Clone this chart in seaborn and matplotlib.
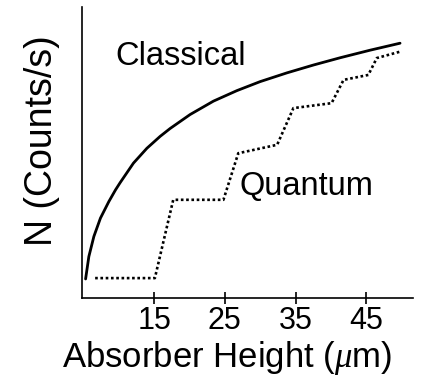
import matplotlib
matplotlib.use("Agg")
import matplotlib.pyplot as plt
import seaborn as sns
import pandas as pd

# Classical curve
classical_x = [5.3, 5.76, 6.47, 7.40, 8.59, 9.53, 10.19, 12.07, 13.97, 15.85, 17.26, 20.09,
               23.39, 26.70, 29.99, 33.77, 37.53, 41.31, 45.55, 49.79]
classical_y = [6.5, 14.2, 21.1, 27.4, 33.1, 37.1, 39.6, 46.3, 51.4, 55.5, 58.2, 63.0,
               67.6, 71.2, 74.3, 77.3, 80.0, 82.5, 85.1, 87.5]

# Quantum step curve corners
quantum_x = [6.65, 15.1, 17.7, 24.8, 26.9, 32.4, 34.7, 40.1, 41.8, 45.3, 46.5, 49.8]
quantum_y = [6.8, 6.8, 33.7, 33.7, 49.7, 52.6, 65.2, 66.9, 74.9, 76.6, 82.4, 84.6]

xticks = [15, 25, 35, 45]
xlabel = "Absorber Height ($\\mu$m)"
ylabel = "N (Counts/s)"

sns.set_style("ticks")
plt.rcParams['font.family'] = ['Liberation Sans', 'DejaVu Sans']
plt.rcParams['mathtext.fontset'] = 'custom'
plt.rcParams['mathtext.it'] = 'Liberation Serif:italic'
plt.rcParams['mathtext.rm'] = 'Liberation Sans'
plt.rcParams['text.color'] = 'black'
plt.rcParams['axes.labelcolor'] = 'black'
plt.rcParams['xtick.color'] = 'black'
plt.rcParams['ytick.color'] = 'black'

fig = plt.figure(figsize=(4.23, 3.79), dpi=100)
ax = fig.add_axes([0.194, 0.214, 0.782, 0.768])

dfc = pd.DataFrame({"x": classical_x, "y": classical_y})
dfq = pd.DataFrame({"x": quantum_x, "y": quantum_y})
sns.lineplot(data=dfc, x="x", y="y", ax=ax, color="black", lw=2.0, sort=False, estimator=None)
sns.lineplot(data=dfq, x="x", y="y", ax=ax, color="black", lw=1.9, sort=False, estimator=None,
             linestyle=(0, (1, 1)))

ax.set_xlim(4.8, 51.6)
ax.set_ylim(0, 100)
ax.set_xticks(xticks)
ax.set_xticklabels([str(t) for t in xticks], fontsize=22, color='black')
ax.set_yticks([])
ax.tick_params(axis='x', direction='inout', length=8, width=1.2, pad=2, color='black')
for s in ['top', 'right']:
    ax.spines[s].set_visible(False)
for s in ['left', 'bottom']:
    ax.spines[s].set_linewidth(1.2)
    ax.spines[s].set_color('black')

ax.set_xlabel(xlabel, fontsize=25, va='center', color='black')
ax.xaxis.set_label_coords(0.438, -0.206)
ax.set_ylabel(ylabel, fontsize=27, va='center', color='black')
ax.yaxis.set_label_coords(-0.121, 0.54)

ax.text(18.7, 82.8, "Classical", fontsize=23.5, ha='center', va='center', color='black')
ax.text(36.5, 38.1, "Quantum", fontsize=23.5, ha='center', va='center', color='black')

fig.savefig("out.png", dpi=100)
